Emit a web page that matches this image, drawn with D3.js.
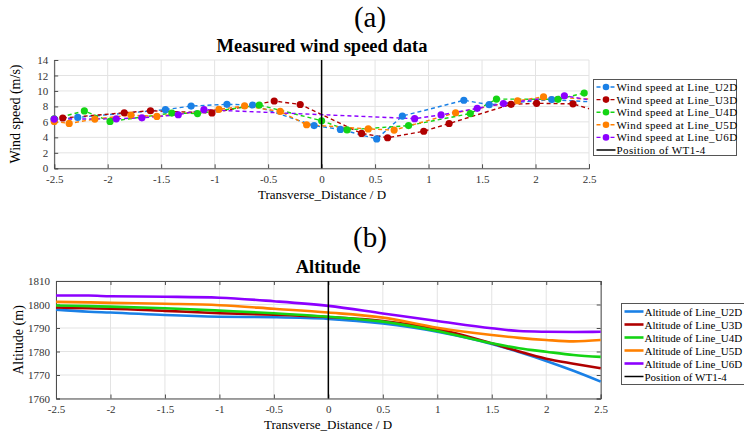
<!DOCTYPE html>
<html>
<head>
<meta charset="utf-8">
<script src="https://cdn.jsdelivr.net/npm/d3@7"></script>
<style>
  body { margin: 0; background: #fff; }
  svg { display: block; }
  svg text { font-family: "Liberation Serif", "Times New Roman", serif; }
</style>
</head>
<body>
<svg id="chart" width="744" height="437"></svg>
<script>
// ---- (a) measured wind speed, each line has its own sample positions
const u2dDist  = [-2.5, -2.28, -1.46, -1.22, -0.885, -0.645, -0.07, 0.176, 0.515, 0.755, 1.33, 1.567, 2.152, 2.5];
const u2dSpeed = [6.3, 6.58, 7.58, 8.05, 8.27, 8.18, 5.52, 5.03, 3.8, 6.75, 8.8, 8.22, 8.88, 8.6];
const u3dDist  = [-2.42, -1.845, -1.6, -1.025, -0.443, -0.2, 0.374, 0.617, 0.955, 1.192, 1.772, 2.01, 2.35, 2.5];
const u3dSpeed = [6.5, 7.18, 7.44, 7.16, 8.7, 8.25, 4.51, 3.95, 4.79, 5.79, 8.27, 8.4, 8.33, 7.7];
const u4dDist  = [-2.5, -2.218, -1.978, -1.4, -1.16, -0.583, 0, 0.238, 0.813, 1.39, 1.635, 2.21, 2.455];
const u4dSpeed = [6.4, 7.42, 6.06, 7.14, 7.08, 8.18, 6.15, 4.96, 5.52, 7.08, 8.95, 8.92, 9.73];
const u5dDist  = [-2.5, -2.36, -2.12, -1.782, -1.54, -0.96, -0.72, -0.387, -0.14, 0.436, 0.678, 1.253, 1.832, 2.075, 2.5];
const u5dSpeed = [6.05, 5.8, 6.36, 6.88, 6.7, 7.63, 8.06, 7.35, 5.63, 5.09, 4.94, 7.18, 8.73, 9.23, 8.95];
const u6dDist  = [-2.5, -1.92, -1.68, -1.34, -1.1, 0.87, 1.117, 1.455, 1.7, 2.27, 2.5];
const u6dSpeed = [6.36, 6.4, 6.53, 6.92, 7.58, 6.42, 6.9, 7.75, 8.37, 9.38, 8.85];

// ---- (b) altitude along the same transverse lines
const altDist = [-2.5, -2.2, -2, -1.5, -1, -0.5, 0, 0.5, 1, 1.5, 1.75, 2, 2.25, 2.5];
const altU2D = [1797.8, 1796.9, 1796.6, 1795.5, 1794.8, 1794.6, 1793.9, 1791.9, 1788.4, 1783.2, 1779.8, 1776.0, 1771.8, 1767.2];
const altU3D = [1798.7, 1798.4, 1798.2, 1797.3, 1796.3, 1795.7, 1794.7, 1793.0, 1789.6, 1783.5, 1780.0, 1776.9, 1774.8, 1772.9];
const altU4D = [1799.6, 1799.3, 1799.1, 1798.4, 1797.4, 1796.3, 1794.8, 1792.7, 1788.7, 1783.5, 1781.4, 1779.9, 1778.5, 1777.7];
const altU5D = [1801.1, 1800.9, 1800.7, 1800.3, 1799.7, 1798.2, 1796.6, 1794.4, 1790.1, 1787.0, 1785.8, 1784.9, 1784.3, 1784.9];
const altU6D = [1803.8, 1803.8, 1803.5, 1803.3, 1802.9, 1801.4, 1799.4, 1796.2, 1793.0, 1789.9, 1788.7, 1788.4, 1788.3, 1788.4];

const lineNames = ['U2D', 'U3D', 'U4D', 'U5D', 'U6D'];
const lineColors = ['#1a80e6', '#b00000', '#14d414', '#ff8000', '#8c00ff'];
const distTicks = [-2.5, -2, -1.5, -1, -0.5, 0, 0.5, 1, 1.5, 2, 2.5];
const speedTicks = [0, 2, 4, 6, 8, 10, 12, 14];
const altTicks = [1760, 1770, 1780, 1790, 1800, 1810];
const wt14Position = 0;

const windSeries = [
  { dist: u2dDist, val: u2dSpeed },
  { dist: u3dDist, val: u3dSpeed },
  { dist: u4dDist, val: u4dSpeed },
  { dist: u5dDist, val: u5dSpeed },
  { dist: u6dDist, val: u6dSpeed },
].map((s, i) => ({ ...s, name: lineNames[i], color: lineColors[i] }));

const altSeries = [altU2D, altU3D, altU4D, altU5D, altU6D]
  .map((v, i) => ({ dist: altDist, val: v, name: lineNames[i], color: lineColors[i] }));

const svg = d3.select('#chart');
const gridColor = '#e3e3e3';
const axisColor = '#4d4d4d';
const fmt = d => String(d);   // plain hyphen minus, like the original

function drawPanel(cfg) {
  const { x, y, xTicks, yTicks } = cfg;
  const [x0, x1] = x.range();
  const [y0, y1] = y.range();
  const g = svg.append('g');

  // grid
  g.selectAll('.gx').data(xTicks).join('line')
    .attr('x1', d => x(d)).attr('x2', d => x(d)).attr('y1', y0).attr('y2', y1)
    .attr('stroke', gridColor).attr('stroke-width', 1);
  g.selectAll('.gy').data(yTicks).join('line')
    .attr('x1', x0).attr('x2', x1).attr('y1', d => y(d)).attr('y2', d => y(d))
    .attr('stroke', gridColor).attr('stroke-width', 1);

  // axes, ticks pointing inward
  const xAxis = d3.axisBottom(x).tickValues(xTicks).tickSize(-4).tickPadding(7).tickFormat(fmt);
  const yAxis = d3.axisLeft(y).tickValues(yTicks).tickSize(-4).tickPadding(6).tickFormat(fmt);
  g.append('g').attr('transform', `translate(0,${y0})`).call(xAxis);
  g.append('g').attr('transform', `translate(${x0},0)`).call(yAxis);
  if (cfg.box) {
    g.append('g').attr('transform', `translate(0,${y1})`)
      .call(d3.axisTop(x).tickValues(xTicks).tickSize(-4).tickFormat(''));
    g.append('g').attr('transform', `translate(${x1},0)`)
      .call(d3.axisRight(y).tickValues(yTicks).tickSize(-4).tickFormat(''));
  }
  g.selectAll('.domain').attr('stroke', axisColor);
  g.selectAll('.tick line').attr('stroke', axisColor);
  g.selectAll('g').attr('font-family', null);
  g.selectAll('.tick text')
    .style('font-family', '"Liberation Serif", serif')
    .attr('font-size', 11).attr('fill', '#333');
  return g;
}

// ---------- panel (a)
const xa = d3.scaleLinear().domain([-2.5, 2.5]).range([54.2, 589]);
const ya = d3.scaleLinear().domain([0, 14]).range([168.3, 60]);
const ga = drawPanel({ x: xa, y: ya, xTicks: distTicks, yTicks: speedTicks, box: false });

const lineA = d3.line().x(d => xa(d[0])).y(d => ya(d[1]));
windSeries.forEach(s => {
  const pts = s.dist.map((d, i) => [d, s.val[i]]);
  ga.append('path').datum(pts).attr('d', lineA)
    .attr('fill', 'none').attr('stroke', s.color).attr('stroke-width', 1.4)
    .attr('stroke-dasharray', '4,3');
});
windSeries.forEach(s => {
  const pts = s.dist.map((d, i) => [d, s.val[i]]).filter(p => p[0] < 2.5);
  ga.selectAll(null).data(pts).join('circle')
    .attr('cx', d => xa(d[0])).attr('cy', d => ya(d[1])).attr('r', 3.6)
    .attr('fill', s.color);
});
ga.append('line')
  .attr('x1', xa(wt14Position)).attr('x2', xa(wt14Position))
  .attr('y1', ya.range()[0]).attr('y2', ya.range()[1])
  .attr('stroke', '#000').attr('stroke-width', 1.5);

// ---------- panel (b)
const xb = d3.scaleLinear().domain([-2.5, 2.5]).range([56, 600.7]);
const yb = d3.scaleLinear().domain([1760, 1810]).range([398.5, 281]);
const gb = drawPanel({ x: xb, y: yb, xTicks: distTicks, yTicks: altTicks, box: true });

const lineB = d3.line().x(d => xb(d[0])).y(d => yb(d[1])).curve(d3.curveMonotoneX);
altSeries.forEach(s => {
  const pts = s.dist.map((d, i) => [d, s.val[i]]);
  gb.append('path').datum(pts).attr('d', lineB)
    .attr('fill', 'none').attr('stroke', s.color).attr('stroke-width', 2.6);
});
gb.append('line')
  .attr('x1', xb(wt14Position)).attr('x2', xb(wt14Position))
  .attr('y1', yb.range()[0]).attr('y2', yb.range()[1])
  .attr('stroke', '#000').attr('stroke-width', 1.5);

// ---------- titles and axis labels
function label(txt, x, y, size, opts = {}) {
  const t = svg.append('text').attr('x', x).attr('y', y)
    .attr('text-anchor', 'middle').attr('dominant-baseline', 'central')
    .attr('font-size', size).attr('fill', '#000').text(txt);
  if (opts.bold) t.attr('font-weight', 'bold');
  if (opts.rotate) t.attr('transform', `rotate(-90,${x},${y})`);
  return t;
}
label('(a)', 370, 17, 29);
label('Measured wind speed data', 322, 46, 18.5, { bold: true });
label('Transverse_Distance / D', 322, 194, 13);
label('Wind speed (m/s)', 15, 114, 14, { rotate: true });
label('(b)', 370, 237, 29);
label('Altitude', 328, 267, 18.5, { bold: true });
label('Transverse_Distance / D', 328, 424, 13);
label('Altitude (m)', 18, 340, 14, { rotate: true });

// ---------- legends
function legend(cfg) {
  const g = svg.append('g');
  g.append('rect').attr('x', cfg.x).attr('y', cfg.y).attr('width', cfg.w).attr('height', cfg.h)
    .attr('fill', '#fff').attr('stroke', '#555').attr('stroke-width', 1);
  cfg.items.forEach((it, i) => {
    const ry = cfg.y + cfg.first + i * cfg.step;
    const lx0 = cfg.x + 3, lx1 = cfg.x + 22;
    g.append('line').attr('x1', lx0).attr('x2', lx1).attr('y1', ry).attr('y2', ry)
      .attr('stroke', it.color).attr('stroke-width', it.width)
      .attr('stroke-dasharray', it.dash || null);
    if (it.marker) {
      g.append('circle').attr('cx', (lx0 + lx1) / 2).attr('cy', ry).attr('r', 3.3).attr('fill', it.color);
    }
    g.append('text').attr('x', lx1 + 1).attr('y', ry).attr('dominant-baseline', 'central')
      .attr('font-size', cfg.fontSize).attr('letter-spacing', cfg.spacing)
      .attr('fill', '#000').text(it.label);
  });
}
legend({
  x: 593.5, y: 79.5, w: 143, h: 76, first: 7.5, step: 12.6, fontSize: 11, spacing: 0.4,
  items: windSeries.map(s => ({ label: 'Wind speed at Line_' + s.name, color: s.color, width: 1.4, dash: '4,3', marker: true }))
    .concat([{ label: 'Position of WT1-4', color: '#000', width: 1.5 }])
});
legend({
  x: 621.5, y: 303.5, w: 130, h: 81, first: 8, step: 13, fontSize: 11, spacing: 0,
  items: altSeries.map(s => ({ label: 'Altitude of Line_' + s.name, color: s.color, width: 2.6 }))
    .concat([{ label: 'Position of WT1-4', color: '#000', width: 1.5 }])
});
</script>
</body>
</html>
